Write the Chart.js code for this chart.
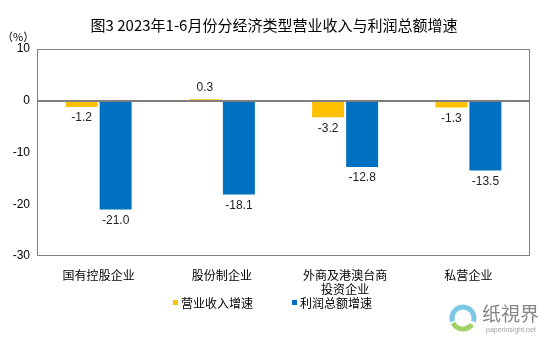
<!DOCTYPE html>
<html>
<head>
<meta charset="utf-8">
<script src="https://cdn.jsdelivr.net/npm/chart.js@4.4.0/dist/chart.umd.min.js"></script>
<style>
  html, body { margin: 0; padding: 0; background: #fff; }
  #wrap { width: 549px; height: 338px; }
</style>
</head>
<body>
<div id="wrap"><canvas id="myChart" width="549" height="338"></canvas></div>
<script>
const titleText = '图3 2023年1-6月份分经济类型营业收入与利润总额增速';
const categories = ['国有控股企业', '股份制企业', ['外商及港澳台商', '投资企业'], '私营企业'];
const revenueGrowth = [-1.2, 0.3, -3.2, -1.3];
const profitGrowth = [-21.0, -18.1, -12.8, -13.5];
const seriesNames = ['营业收入增速', '利润总额增速'];
const yTicks = [10, 0, -10, -20, -30];

const YELLOW = '#FFC000';
const BLUE = '#0070C0';
const FONT = 'Arial, "Liberation Sans", "Noto Sans CJK SC", sans-serif';

// draws title, unit, frame, zero line, value labels, legend and the watermark
const decorations = {
  id: 'decorations',
  afterDatasetsDraw(chart) {
    const ctx = chart.ctx;
    const area = chart.chartArea;
    const y = chart.scales.y;
    ctx.save();

    // frame
    ctx.strokeStyle = '#808080';
    ctx.lineWidth = 1;
    ctx.strokeRect(area.left + 0.5, area.top + 0.5, area.right - area.left - 1, area.bottom - area.top - 1);

    // zero line
    const y0 = Math.round(y.getPixelForValue(0));
    ctx.strokeStyle = '#7f7f7f';
    ctx.lineWidth = 2;
    ctx.beginPath();
    ctx.moveTo(area.left, y0);
    ctx.lineTo(area.right, y0);
    ctx.stroke();

    // title
    ctx.fillStyle = '#000';
    ctx.font = '15px "Noto Sans CJK SC", sans-serif';
    ctx.textAlign = 'center';
    ctx.textBaseline = 'middle';
    ctx.fillText(titleText, 274, 25);

    // unit
    ctx.font = '11px "Noto Sans CJK SC", sans-serif';
    ctx.textAlign = 'left';
    ctx.fillText('（%）', 2, 37);

    // value labels
    ctx.font = '12px ' + FONT;
    ctx.fillStyle = '#222';
    ctx.textAlign = 'center';
    chart.data.datasets.forEach((ds, di) => {
      const meta = chart.getDatasetMeta(di);
      meta.data.forEach((bar, i) => {
        const v = ds.data[i];
        const py = v >= 0 ? bar.y - 12 : bar.y + 11;
        ctx.fillText(v.toFixed(1), bar.x, py);
      });
    });

    // legend
    const legendY = 303;
    const items = [
      { x: 173, color: YELLOW, text: seriesNames[0] },
      { x: 292, color: BLUE, text: seriesNames[1] }
    ];
    ctx.font = '12px "Noto Sans CJK SC", sans-serif';
    ctx.textAlign = 'left';
    items.forEach(it => {
      ctx.fillStyle = it.color;
      ctx.fillRect(it.x, legendY - 3, 5, 5);
      ctx.fillStyle = '#000';
      ctx.fillText(it.text, it.x + 8, legendY);
    });

    // watermark
    ctx.globalAlpha = 0.8;
    ctx.lineWidth = 5;
    ctx.strokeStyle = '#5bb8e0';
    ctx.beginPath();
    ctx.arc(463, 318, 11, Math.PI * 0.9, Math.PI * 2.1);
    ctx.stroke();
    ctx.strokeStyle = '#8cc63f';
    ctx.beginPath();
    ctx.arc(463, 318, 11, Math.PI * 0.2, Math.PI * 0.85);
    ctx.stroke();
    ctx.fillStyle = '#666';
    ctx.font = '19px "Noto Sans CJK SC", sans-serif';
    ctx.fillText('纸視界', 482, 314);
    ctx.font = '7px ' + FONT;
    ctx.fillStyle = '#888';
    ctx.fillText('paperinsight.net', 486, 330);
    ctx.restore();
  }
};

const chartData = {
  labels: categories,
  datasets: [
    { label: seriesNames[0], data: revenueGrowth, backgroundColor: YELLOW },
    { label: seriesNames[1], data: profitGrowth, backgroundColor: BLUE }
  ]
};

const config = {
  type: 'bar',
  data: chartData,
  options: {
    responsive: false,
    animation: false,
    layout: { padding: { top: 49, right: 19, bottom: 40, left: 0 } },
    datasets: {
      bar: { categoryPercentage: 0.552, barPercentage: 0.94 }
    },
    scales: {
      x: {
        grid: { display: false, drawTicks: false },
        border: { display: false },
        ticks: {
          color: '#000',
          padding: 12,
          font: { size: 12, family: '"Noto Sans CJK SC", sans-serif' },
          maxRotation: 0,
          autoSkip: false
        },
        afterFit(scale) { scale.height = 42; }
      },
      y: {
        min: -30,
        max: 10,
        afterBuildTicks(scale) { scale.ticks = yTicks.map(v => ({ value: v })); },
        grid: { display: false, drawTicks: false },
        border: { display: false },
        ticks: {
          color: '#000',
          padding: 7,
          font: { size: 12, family: FONT }
        },
        afterFit(scale) { scale.width = 37; }
      }
    },
    plugins: {
      legend: { display: false },
      title: { display: false },
      tooltip: { enabled: false }
    }
  },
  plugins: [decorations]
};

const myChart = new Chart(document.getElementById('myChart'), config);
</script>
</body>
</html>
